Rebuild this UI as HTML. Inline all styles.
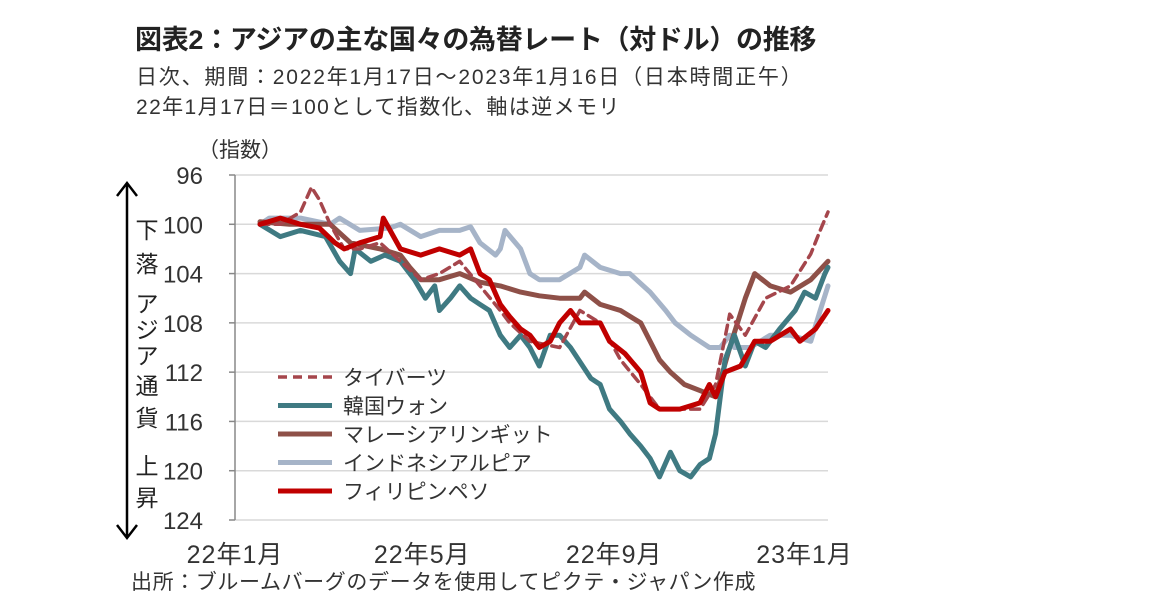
<!DOCTYPE html>
<html><head><meta charset="utf-8">
<style>
body{margin:0;background:#fff;}
#c{position:relative;width:1152px;height:605px;overflow:hidden;font-family:"Liberation Sans","Noto Sans CJK JP",sans-serif;color:#333;}
.t{position:absolute;white-space:nowrap;}
</style></head>
<body>
<div id="c">
<div class="t" style="left:135px;top:18px;font-size:27px;font-weight:bold;color:#222;letter-spacing:-0.3px;">図表2：アジアの主な国々の為替レート（対ドル）の推移</div>
<div class="t" style="left:136px;top:61px;font-size:21px;letter-spacing:1.8px;">日次、期間：2022年1月17日～2023年1月16日（日本時間正午）</div>
<div class="t" style="left:136px;top:91px;font-size:21px;letter-spacing:1.4px;">22年1月17日＝100として指数化、軸は逆メモリ</div>
<div class="t" style="left:198px;top:134px;font-size:21px;">（指数）</div>
<div class="t" style="left:131px;top:566px;font-size:21px;letter-spacing:0.6px;">出所：ブルームバーグのデータを使用してピクテ・ジャパン作成</div>
<svg id="s" width="1152" height="605" style="position:absolute;left:0;top:0;"></svg>
</div>
<script>
const yTicks=[96,100,104,108,112,116,120,124];
const xTickLabels=["22年1月","22年5月","22年9月","23年1月"];
const xTickDays=[0,120,243,365];
const seriesNames=["タイバーツ","韓国ウォン","マレーシアリンギット","インドネシアルピア","フィリピンペソ"];
// days since 2022-01-17
const thbDays=[0,13,26,33,38,45,54,64,77,90,103,115,128,141,154,160,173,192,205,218,231,244,256,269,282,292,301,311,324,340,353,359,364];
const thbVals=[100,100,99,97,98,100,102,102,101.5,103,104.5,104,103,105,107,108,109.5,110,107,108,111,113,115,115,115,113,107.3,109,106,105,102.4,100.5,99];
const krwDays=[0,13,26,42,51,58,61,71,80,90,99,106,112,115,122,128,135,141,147,154,160,167,173,179,186,192,199,212,218,224,231,237,244,250,256,263,269,276,282,288,292,298,304,311,317,324,333,343,349,356,362,364];
const krwVals=[100,101,100.5,101,103,104,102,103,102.5,103,104.5,106,105,107,106,105,106,106.5,107,109,110,109,110,111.5,109,109,110,112.5,113,115,116,117,118,119,120.5,118.5,120,120.5,119.5,119,117,111,109,111.5,109.5,110,108.5,107,105.5,106,104,103.5];
const myrDays=[0,19,45,58,77,90,96,103,115,128,141,154,167,179,192,205,208,218,231,244,250,256,263,272,282,292,301,311,317,327,340,353,364];
const myrVals=[99.8,100,100,101.5,102,102.5,103.5,104.5,104.5,104,104.7,105,105.5,105.8,106,106,105.5,106.5,107,108,109.5,111,112,113,113.5,114,110,106,104,105,105.5,104.5,103];
const idrDays=[0,6,26,45,51,64,83,90,103,115,128,135,141,151,154,157,167,173,179,192,205,208,218,231,237,250,260,266,276,282,288,295,301,304,314,327,340,353,359,364];
const idrVals=[100,99.5,99.5,100,99.5,100.5,100.3,100,101,100.5,100.5,100.2,101.5,102.5,102,100.5,102,104,104.5,104.5,103.5,102.5,103.5,104,104,105.5,107,108,109,109.5,110,110,109,110,110,109,109,109.5,107,105];
const phpDays=[0,13,26,38,48,54,64,77,79,90,103,115,128,135,141,147,154,160,167,173,179,186,192,199,205,218,224,234,244,250,256,269,282,288,292,298,308,317,327,340,346,356,364];
const phpVals=[100,99.5,100,100.3,101.5,102,101.5,101,99.5,102,102.5,102,102.5,102,104,104.5,106.5,107.5,108.5,109,110,109.5,108,107,108,108,109.5,110.5,112,114.5,115,115,114.5,113,114,112,111.5,109.5,109.5,108.5,109.5,108.5,107];

const X0=235,X1=828,Y0=175,Y1=520;
const xs=d=>X0+d*(X1-X0)/380;   // days since Jan 1 2022
const ys=v=>Y0+(v-96)*(Y1-Y0)/28;
const svg=document.getElementById('s');
const NS='http://www.w3.org/2000/svg';
function mk(t,a){const e=document.createElementNS(NS,t);for(const k in a)e.setAttribute(k,a[k]);svg.appendChild(e);return e;}
yTicks.forEach(v=>{
  const g=mk('line',{x1:X0,x2:X1,y1:ys(v),y2:ys(v),stroke:'#d9d9d9','stroke-width':1.5});
  
  
  const tk=mk('line',{x1:X0-6,x2:X0,y1:ys(v),y2:ys(v),stroke:'#888','stroke-width':1.5});
  
  
  const t=mk('text',{x:203,y:ys(v)+9,'text-anchor':'end','font-size':24,fill:'#333','font-family':'Liberation Sans, sans-serif'});
  t.textContent=v;
  
  
});
const ax=mk('line',{x1:X0,x2:X0,y1:Y0,y2:Y1,stroke:'#888','stroke-width':1.5});


xTickLabels.forEach((l,i)=>{
  const t=mk('text',{x:xs(xTickDays[i]),y:563,'text-anchor':'middle','font-size':25,fill:'#333','letter-spacing':1,'font-family':'Liberation Sans, Noto Sans CJK JP, sans-serif'});
  t.textContent=l;
  
  
});
function line(days,vals,col,w,dash,name){
  const p=days.map((d,i)=>(i?'L':'M')+xs(d+16).toFixed(1)+','+ys(vals[i]).toFixed(1)).join('');
  const e=mk('path',{d:p,fill:'none',stroke:col,'stroke-width':w,'stroke-linejoin':'round','stroke-linecap':'round'});
  if(dash)e.setAttribute('stroke-dasharray',dash);
  
  
}
const cols=['#a5464c','#3f7a82','#8e5048','#a6b4c8','#c00000'];
line(idrDays,idrVals,cols[3],5,null,'line-idr');
line(myrDays,myrVals,cols[2],5,null,'line-myr');
line(krwDays,krwVals,cols[1],5,null,'line-krw');
line(thbDays,thbVals,cols[0],3.5,'9,6','line-thb');
line(phpDays,phpVals,cols[4],5,null,'line-php');
seriesNames.forEach((n,i)=>{
  const y=377+i*28.5;
  const l=mk('line',{x1:278,x2:332,y1:y,y2:y,stroke:cols[i],'stroke-width':i==0?3.5:5});
  if(i==0)l.setAttribute('stroke-dasharray','9,6');
  
  
  const t=mk('text',{x:343,y:y+8,'font-size':21,fill:'#333','font-family':'Liberation Sans, Noto Sans CJK JP, sans-serif'});
  t.textContent=n;
  
  
});
const ar=mk('path',{d:'M127,183 L127,538 M117,196 L127,183 L137,196 M117,525 L127,538 L137,525',fill:'none',stroke:'#000','stroke-width':2.5});


const chars=[['下',238],['落',272],['ア',312],['ジ',338],['ア',364],['通',394],['貨',426],['上',474],['昇',506]];
chars.forEach(c=>{
  const t=mk('text',{x:147,y:c[1],'text-anchor':'middle','font-size':23,fill:'#222','font-family':'Noto Sans CJK JP, sans-serif'});
  t.textContent=c[0];
  
  
});
</script>
</body></html>
